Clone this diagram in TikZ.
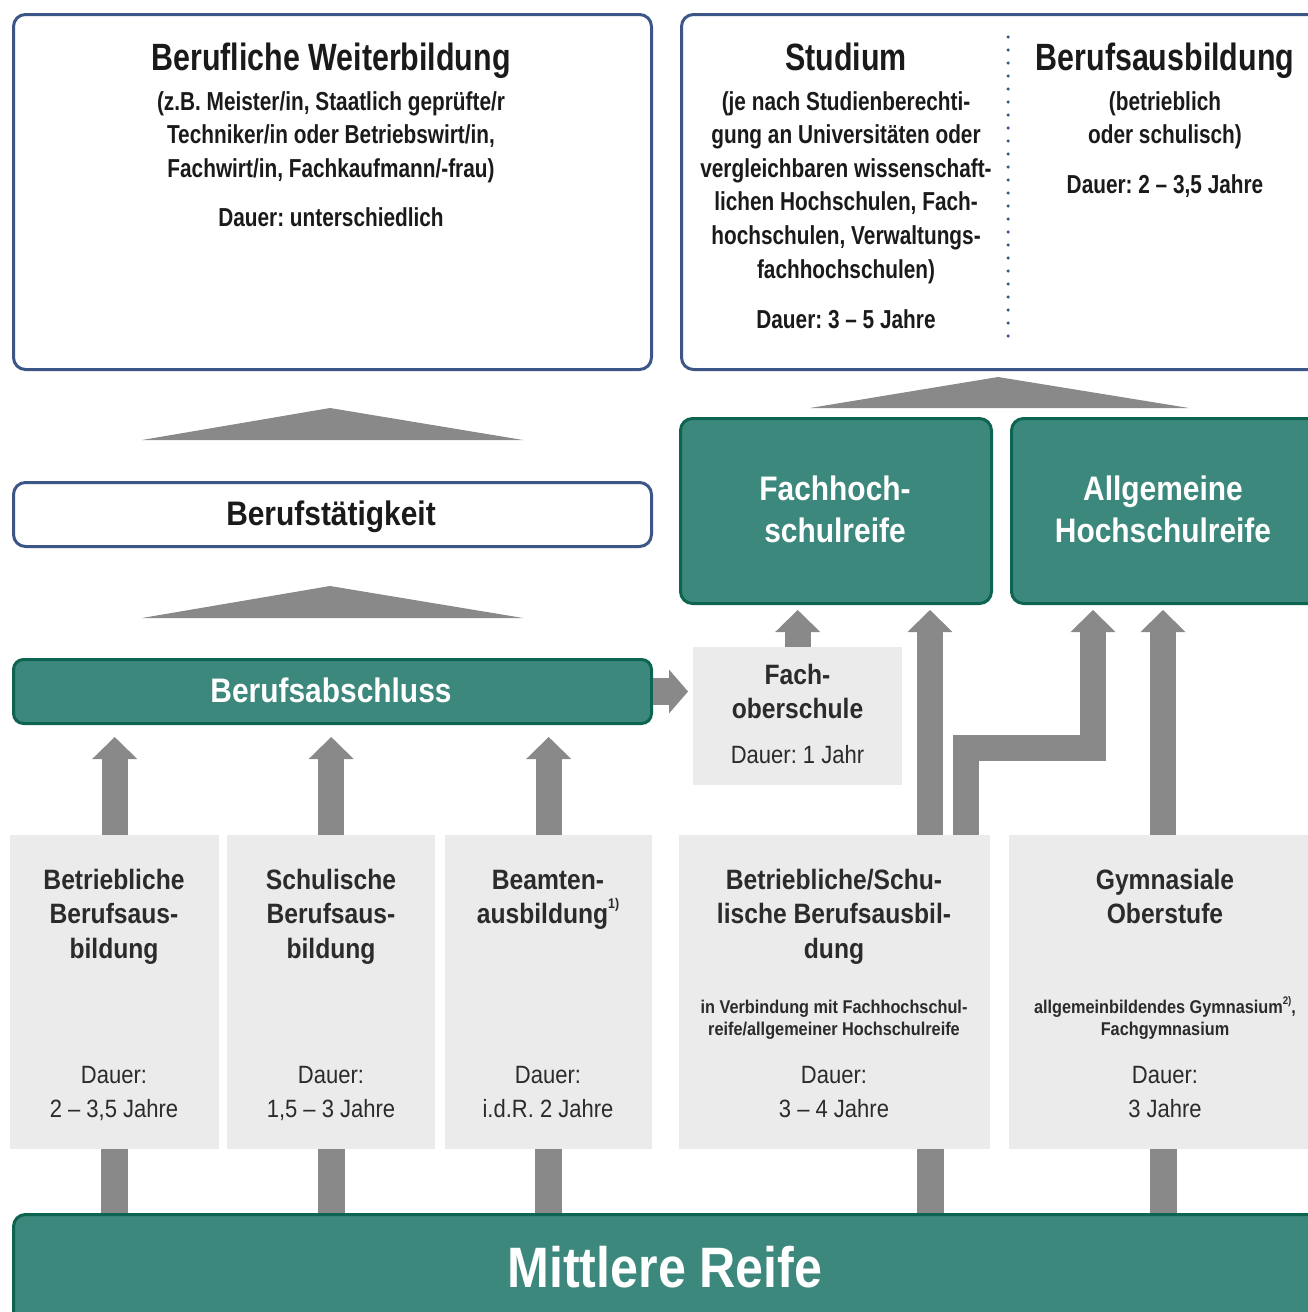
\documentclass[tikz,border=0pt]{standalone}
\usepackage{fontspec}
\usetikzlibrary{calc,arrows.meta}
\newfontfamily\condt[FakeStretch=0.8]{Liberation Sans}
\newfontfamily\condb[FakeStretch=0.88]{Liberation Sans}
\newcommand\fsz[2]{\fontsize{#1}{#2}\selectfont\frenchspacing}
\newcommand\supnote[1]{\raisebox{0.55em}{\fontsize{14}{14}\selectfont #1}}
\definecolor{bluec}{HTML}{3B5687}
\definecolor{tealf}{HTML}{3D887D}
\definecolor{tealb}{HTML}{0D6450}
\definecolor{arrg}{HTML}{898989}
\definecolor{boxg}{HTML}{EBEBEB}
\definecolor{darkt}{HTML}{1A1A1A}
\definecolor{bodyt}{HTML}{2B2B2B}
\tikzset{
  bluebox/.style={draw=bluec, line width=3pt, rounded corners=12pt, fill=white, inner sep=0pt, anchor=north west},
  tealbox/.style={draw=tealb, fill=tealf, line width=3pt, rounded corners=12pt, inner sep=0pt, anchor=north west},
  graybox/.style={fill=boxg, inner sep=0pt, anchor=north west},
  fat/.style={draw=arrg, line width=26pt, -{Triangle[length=22pt,width=45pt,line width=0pt]}},
  bar/.style={draw=arrg, line width=27pt},
  wedge/.style={fill=arrg},
  txt/.style={anchor=base, inner sep=0pt, align=center},
  ttl/.style={txt, text=darkt, font=\condt\bfseries\fsz{38}{40}},
  sub/.style={txt, text=darkt, font=\condt\bfseries\fsz{26}{33.6}},
  wlab/.style={txt, text=white, font=\condb\bfseries\fsz{34}{42}},
  glab/.style={txt, text=bodyt, font=\condb\bfseries\fsz{28}{34.5}},
  gdur/.style={txt, text=bodyt, font=\condb\fsz{25}{34}},
  gsmall/.style={txt, text=bodyt, font=\condb\bfseries\fsz{18.5}{22}},
}
\begin{document}
\begin{tikzpicture}[x=1pt,y=-1pt]
\useasboundingbox (0,0) rectangle (1308,1312);
\clip (0,0) rectangle (1308,1312);

% ---- top boxes
\node[bluebox, minimum width=638pt, minimum height=355pt] (bw) at (12,13) {};
\node[bluebox, minimum width=660pt, minimum height=355pt] (st) at (680,13) {};
\draw[bluec, line width=3.5pt, line cap=round, dash pattern=on 0pt off 13pt] (1008,37) -- (1008,345);

% multi-line text nodes are placed at the baseline of their LAST line
\node[ttl] (bwt) at (331,70) {Berufliche Weiterbildung};
\node[sub] (bws) at (331,177.2) {(z.B. Meister/in, Staatlich geprüfte/r\\Techniker/in oder Betriebswirt/in,\\Fachwirt/in, Fachkaufmann/-frau)};
\node[sub] (bwd) at (331,226) {Dauer: unterschiedlich};

\node[ttl] (stt) at (846,70) {Studium};
\node[sub] (sts) at (846,278) {(je nach Studienberechti-\\gung an Universitäten oder\\vergleichbaren wissenschaft-\\lichen Hochschulen, Fach-\\hochschulen, Verwaltungs-\\fachhochschulen)};
\node[sub] (std) at (846,328) {Dauer: 3 – 5 Jahre};

\node[ttl] (bat) at (1165,70) {Berufsausbildung};
\node[sub] (bas) at (1165,143.6) {(betrieblich\\oder schulisch)};
\node[sub] (bad) at (1165,193) {Dauer: 2 – 3,5 Jahre};

% ---- wedges
\fill[wedge] (142,440) -- (330,408) -- (523,440) -- cycle;
\fill[wedge] (142,618) -- (330,586) -- (523,618) -- cycle;
\fill[wedge] (810,408) -- (998,377) -- (1189,408) -- cycle;

% ---- middle left
\node[bluebox, minimum width=638pt, minimum height=64pt] (bt) at (12,481) {};
\node[txt, text=darkt, font=\condb\bfseries\fsz{34}{40}] (btt) at (331,525) {Berufstätigkeit};
\node[tealbox, rounded corners=10pt, minimum width=638pt, minimum height=64pt] (ba) at (12,658) {};
\node[wlab] (bat2) at (331,702) {Berufsabschluss};

% ---- middle right
\node[tealbox, minimum width=311pt, minimum height=185pt] (fhr) at (679,417) {};
\node[wlab] (fhrt) at (835,542) {Fachhoch-\\schulreife};
\node[tealbox, minimum width=330pt, minimum height=185pt] (ahr) at (1010,417) {};
\node[wlab] (ahrt) at (1163,542) {Allgemeine\\Hochschulreife};

\node[graybox, minimum width=209pt, minimum height=138pt] (fos) at (693,647) {};
\node[txt, text=bodyt, font=\condb\bfseries\fsz{28}{34}] (fost) at (797.5,718) {Fach-\\oberschule};
\node[txt, text=bodyt, font=\condb\fsz{25}{30}] (fosd) at (797.5,763) {Dauer: 1 Jahr};

% ---- bottom boxes
\node[graybox, minimum width=209pt, minimum height=314pt] (b1) at (10,835) {};
\node[graybox, minimum width=208pt, minimum height=314pt] (b2) at (227,835) {};
\node[graybox, minimum width=207pt, minimum height=314pt] (b3) at (445,835) {};
\node[graybox, minimum width=311pt, minimum height=314pt] (b4) at (679,835) {};
\node[graybox, minimum width=330pt, minimum height=314pt] (b5) at (1009,835) {};

\node[glab] (b1t) at (114,958) {Betriebliche\\Berufsaus-\\bildung};
\node[gdur] (b1d) at (114,1117) {Dauer:\\2 – 3,5 Jahre};
\node[glab] (b2t) at (331,958) {Schulische\\Berufsaus-\\bildung};
\node[gdur] (b2d) at (331,1117) {Dauer:\\1,5 – 3 Jahre};
\node[glab] (b3t) at (548,923.5) {Beamten-\\ausbildung\supnote{1)}};
\node[gdur] (b3d) at (548,1117) {Dauer:\\i.d.R. 2 Jahre};
\node[glab] (b4t) at (834,958) {Betriebliche/Schu-\\lische Berufsausbil-\\dung};
\node[gsmall] (b4s) at (834,1035) {in Verbindung mit Fachhochschul-\\reife/allgemeiner Hochschulreife};
\node[gdur] (b4d) at (834,1117) {Dauer:\\3 – 4 Jahre};
\node[glab] (b5t) at (1165,923.5) {Gymnasiale\\Oberstufe};
\node[gsmall] (b5s) at (1165,1035) {allgemeinbildendes Gymnasium\raisebox{0.45em}{\fontsize{11}{11}\selectfont 2)},\\Fachgymnasium};
\node[gdur] (b5d) at (1165,1117) {Dauer:\\3 Jahre};

% ---- Mittlere Reife
\node[tealbox, minimum width=1340pt, minimum height=120pt] (mr) at (12,1213) {};
\node[txt, text=white, font=\condb\bfseries\fsz{57}{60}] (mrt) at (665,1287) {Mittlere Reife};

% ---- connectors
\coordinate (p4a) at ($(b4.north west)+(251,0)$);
\coordinate (p4b) at ($(b4.north west)+(287,0)$);
\coordinate (p5) at ($(b5.north west)+(154,0)$);
\coordinate (q4) at ($(b4.south west)+(251,0)$);
\coordinate (q5) at ($(b5.south west)+(154,0)$);
\coordinate (ahrin) at ($(ahr.south west)+(83,5)$);

\draw[bar] (b1.south) -- (b1.south |- mr.north);
\draw[bar] (b2.south) -- (b2.south |- mr.north);
\draw[bar] (b3.south) -- (b3.south |- mr.north);
\draw[bar] (q4) -- (q4 |- mr.north);
\draw[bar] (q5) -- (q5 |- mr.north);

\draw[fat] (b1.north) -- ($(b1.north |- ba.south)+(0,12)$);
\draw[fat] (b2.north) -- ($(b2.north |- ba.south)+(0,12)$);
\draw[fat] (b3.north) -- ($(b3.north |- ba.south)+(0,12)$);
\draw[fat, line width=27pt, -{Triangle[length=19pt,width=44pt,line width=0pt]}] (ba.east) -- ($(ba.east -| fos.west)+(-5,0)$);
\draw[fat] (fos.north) -- ($(fos.north |- fhr.south)+(0,5)$);
\draw[fat] (p4a) -- ($(p4a |- fhr.south)+(0,5)$);
\draw[fat] (p4b) -- ++(0,-87.5) -| (ahrin);
\draw[fat] (p5) -- ($(p5 |- ahr.south)+(0,5)$);
\end{tikzpicture}
\end{document}
